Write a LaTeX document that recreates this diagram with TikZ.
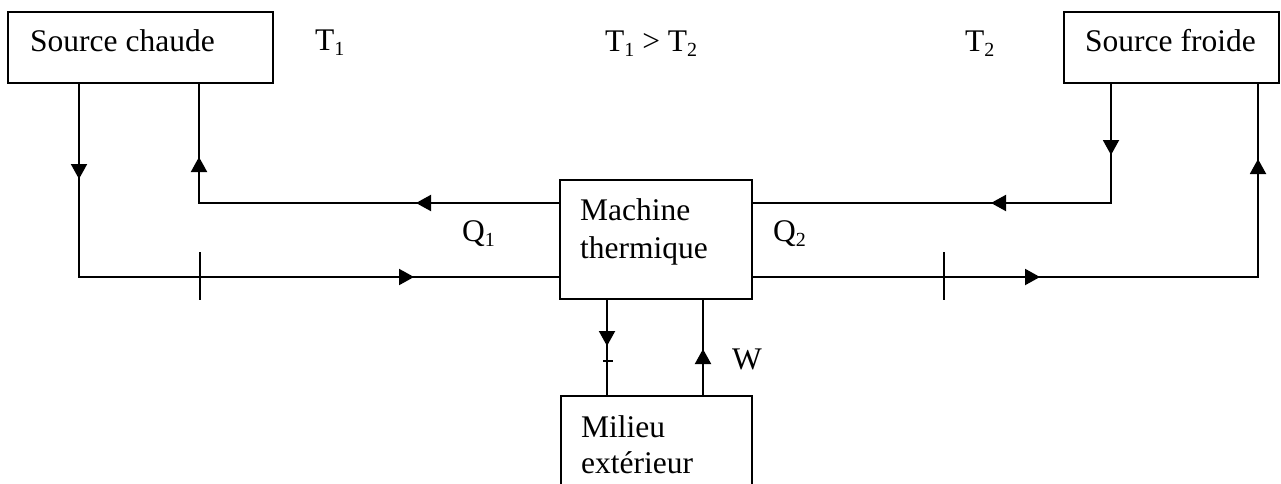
\documentclass[tikz,border=0pt]{standalone}
\usepackage{fontspec}
\setmainfont{Liberation Serif}
\usetikzlibrary{arrows.meta,decorations.markings,calc}
\newcommand{\sbs}[1]{\raisebox{-5pt}{\fontsize{20}{20}\selectfont #1}}
\newcommand{\tri}{\arrow{Triangle[length=15pt,width=16pt]}}
\tikzset{
  box/.style={draw, line width=2pt, rectangle, inner sep=0pt},
  lbl/.style={inner sep=0pt, anchor=base west, font=\fontsize{31.5}{37}\selectfont},
  conn/.style={line width=2pt},
}
\begin{document}
\begin{tikzpicture}[x=1pt,y=-1pt]
\useasboundingbox (0,0) rectangle (1281,484);
\begin{scope}
\clip (0,0) rectangle (1281,484);
% boxes
\node[box, minimum width=265pt, minimum height=71pt] (sc) at (140.5,47.5) {};
\node[box, minimum width=215pt, minimum height=71pt] (sf) at (1171.5,47.5) {};
\node[box, minimum width=192pt, minimum height=119pt] (mt) at (656,239.5) {};
\node[box, minimum width=191pt, minimum height=124pt] (me) at (656.5,458) {};
% texts
\node[lbl] (tsc) at (30,52) {Source chaude};
\node[lbl] (tsf) at (1085,52) {Source froide};
\node[lbl] (t1) at (315,51) {T\sbs{1}};
\node[lbl] (t12) at (605,52) {T\sbs{1} > T\sbs{2}};
\node[lbl] (t2) at (965,52) {T\sbs{2}};
\node[lbl] (tm1) at (580,220) {Machine};
\node[lbl] (tm2) at (580,258) {thermique};
\node[lbl] (q1) at (462,241) {Q\sbs{1}};
\node[lbl] (q2) at (773,241) {Q\sbs{2}};
\node[lbl] (w) at (732,369) {W};
\node[lbl] (tme1) at (581,437) {Milieu};
\node[lbl] (tme2) at (581,473) {extérieur};
% connectors
\draw[conn, postaction={decorate, decoration={markings,
   mark=at position 95pt with {\tri}, mark=at position 528pt with {\tri}}}]
  ($(sc.south west)+(72,0)$) |- ($(mt.south west)+(0,-23)$);
\draw[conn, postaction={decorate, decoration={markings,
   mark=at position 143pt with {\tri}, mark=at position 406pt with {\tri}}}]
  ($(mt.north west)+(0,24)$) -| ($(sc.south west)+(192,0)$);
\draw[conn, postaction={decorate, decoration={markings,
   mark=at position 71pt with {\tri}, mark=at position 239pt with {\tri}}}]
  ($(sf.south west)+(48,0)$) |- ($(mt.north east)+(0,24)$);
\draw[conn, postaction={decorate, decoration={markings,
   mark=at position 287pt with {\tri}, mark=at position 623pt with {\tri}}}]
  ($(mt.south east)+(0,-23)$) -| ($(sf.south east)+(-22,0)$);
\draw[conn, postaction={decorate, decoration={markings,
   mark=at position 46pt with {\tri}}}]
  ($(mt.south west)+(48,0)$) -- ($(me.north west)+(47,0)$);
\draw[conn, postaction={decorate, decoration={markings,
   mark=at position 46pt with {\tri}}}]
  ($(me.north west)+(143,0)$) -- ($(mt.south west)+(144,0)$);
% ticks
\draw[conn] (200,252) -- (200,300);
\draw[conn] (944,252) -- (944,300);
\draw[conn] (603,361) -- (613,361);
\end{scope}
\end{tikzpicture}
\end{document}
